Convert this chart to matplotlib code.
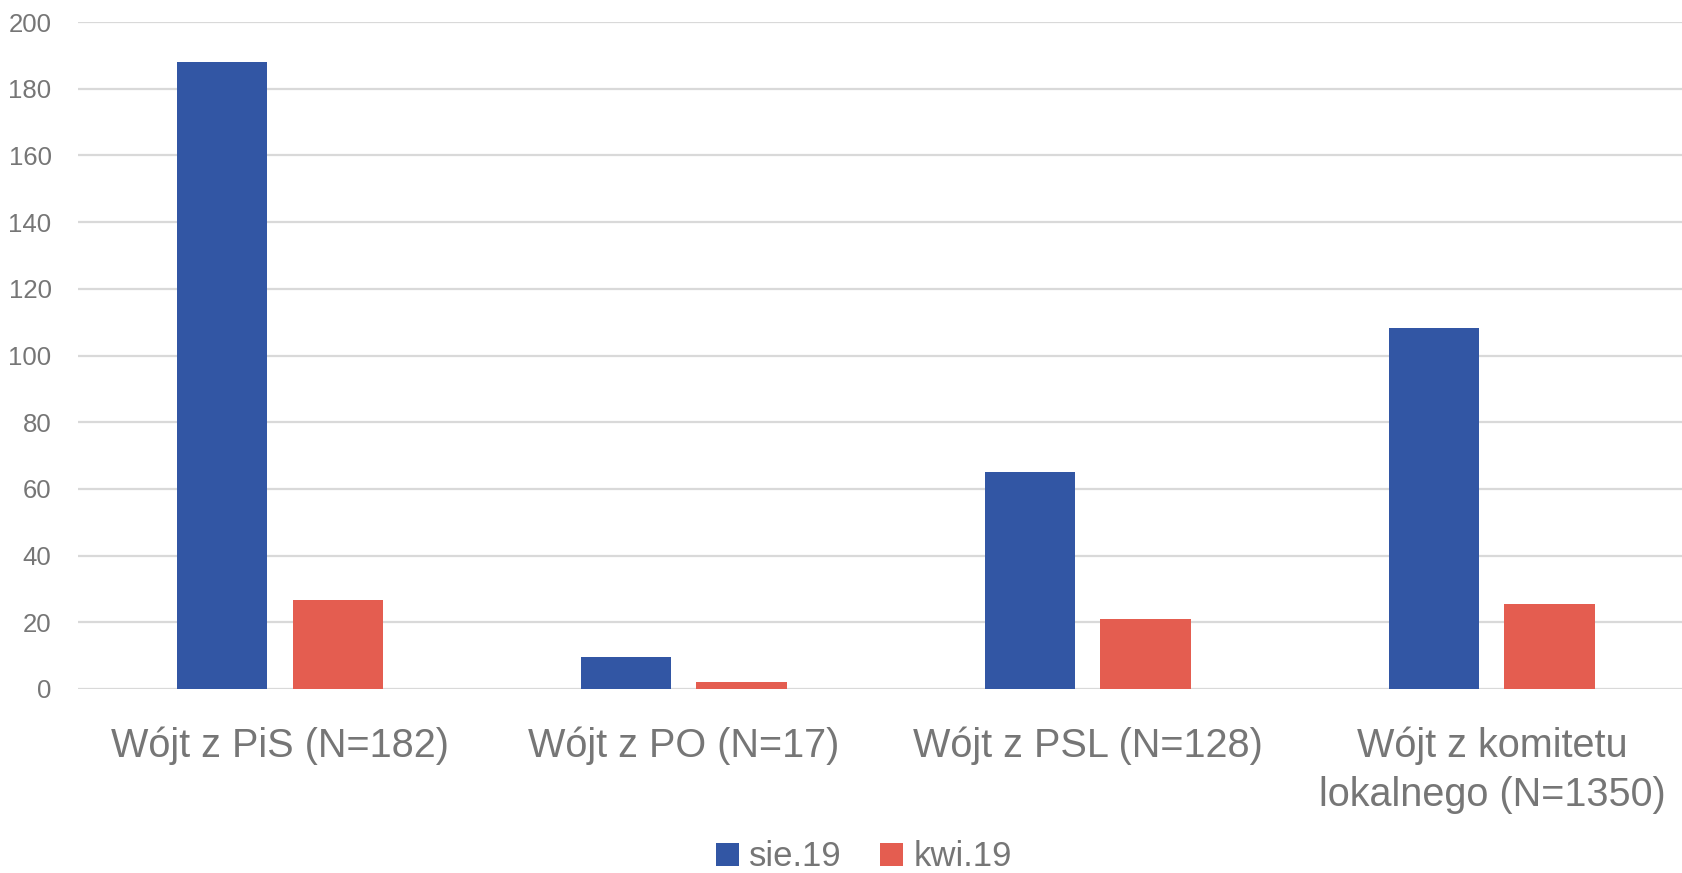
import numpy as np
import matplotlib
matplotlib.use("Agg")
import matplotlib.pyplot as plt

categories = ["Wójt z PiS (N=182)", "Wójt z PO (N=17)", "Wójt z PSL (N=128)",
              "Wójt z komitetu\nlokalnego (N=1350)"]
series_names = ["sie.19", "kwi.19"]
sie19 = [188, 9.6, 65, 108.3]
kwi19 = [26.7, 2.1, 20.9, 25.5]

blue = "#3256A4"
red = "#E45D50"
gray = "#767676"

plt.rcParams['font.family'] = ['Liberation Sans', 'DejaVu Sans']

fig = plt.figure(figsize=(16.83, 8.73), dpi=100)
ax = fig.add_axes([78/1683, 184/873, 1 - 78/1683, 667/873])

x = np.arange(len(categories))
w = 0.223
off = 0.1425
ax.bar(x - off, sie19, w, color=blue, label=series_names[0], zorder=3)
ax.bar(x + off, kwi19, w, color=red, label=series_names[1], zorder=3)

ax.set_ylim(0, 200)
ax.set_xlim(-0.5, 3.473)
ax.set_yticks(np.arange(0, 201, 20))
ax.grid(axis='y', color="#D9D9D9", linewidth=1.6, zorder=0)
for s in ax.spines.values():
    s.set_visible(False)
ax.tick_params(axis='y', length=0, pad=19, labelsize=18.5, labelcolor=gray)
ax.tick_params(axis='x', length=0, pad=27, labelsize=28.5, labelcolor=gray)
ax.set_xticks(x)
ax.set_xticklabels(categories, linespacing=1.38)

leg = fig.legend(loc='center', bbox_to_anchor=(864/1683, 1 - 857/873), ncol=2,
                 frameon=False, fontsize=25, handlelength=0.65, handleheight=0.65,
                 handletextpad=0.3, columnspacing=1.1, labelcolor=gray)

fig.savefig("out.png", dpi=100)
